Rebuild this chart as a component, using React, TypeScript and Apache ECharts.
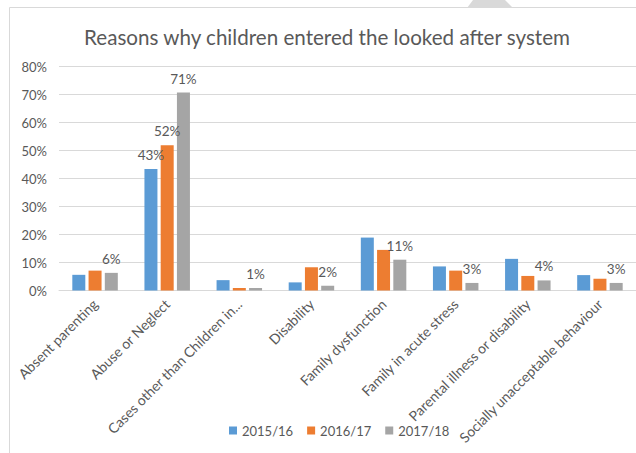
import React, { useEffect, useRef } from "react";
import * as echarts from "echarts";

const categories = [
  "Absent parenting",
  "Abuse or Neglect",
  "Cases other than Children in...",
  "Disability",
  "Family dysfunction",
  "Family in acute stress",
  "Parental illness or disability",
  "Socially unacceptable behaviour",
];
const seriesNames = ["2015/16", "2016/17", "2017/18"];
const values2015 = [5.6, 43.4, 3.7, 2.9, 18.9, 8.6, 11.3, 5.5];
const values2016 = [7.1, 51.9, 0.9, 8.3, 14.5, 7.1, 5.2, 4.2];
const values2017 = [6.3, 70.7, 0.9, 1.7, 11.0, 2.7, 3.6, 2.7];
// which points carry a data label, per series
const labelled2015 = [false, true, false, false, false, false, false, false];
const labelled2016 = [false, true, false, false, false, false, false, false];
const labelled2017 = [true, true, true, true, true, true, true, true];
const colors = ["#5b9bd5", "#ed7d31", "#a5a5a5"];
const yTicks = [0, 10, 20, 30, 40, 50, 60, 70, 80];

const FONT = 'Lato, "Open Sans", sans-serif';
const TEXT = "#595959";

export default function App() {
  const ref = useRef<HTMLDivElement>(null);
  useEffect(() => {
    if (!ref.current) return;
    const chart = echarts.init(ref.current, undefined, { renderer: "svg" });
    const allValues = [values2015, values2016, values2017];
    const allLabelled = [labelled2015, labelled2016, labelled2017];
    chart.setOption({
      animation: false,
      backgroundColor: "#ffffff",
      textStyle: { fontFamily: FONT },
      title: {
        text: "Reasons why children entered the looked after system",
        left: 322,
        textAlign: "center",
        top: 21,
        textStyle: { fontFamily: FONT, fontSize: 20.6, fontWeight: "normal", color: TEXT },
      },
      legend: {
        left: 224,
        top: 419,
        itemWidth: 8,
        itemHeight: 8,
        itemGap: 14,
        icon: "rect",
        data: seriesNames,
        textStyle: { fontFamily: FONT, fontSize: 13, color: TEXT },
      },
      grid: { left: 59, top: 66.5, width: 581, height: 224, containLabel: false },
      xAxis: {
        type: "category",
        data: categories,
        axisLine: { lineStyle: { color: "#d9d9d9", width: 1 } },
        axisTick: { show: false },
        axisLabel: {
          interval: 0,
          rotate: 45,
          margin: 11,
          fontFamily: FONT,
          fontSize: 14,
          color: TEXT,
        },
      },
      yAxis: {
        type: "value",
        min: yTicks[0],
        max: yTicks[yTicks.length - 1],
        interval: 10,
        axisLine: { show: false },
        axisTick: { show: false },
        splitLine: { lineStyle: { color: "#d9d9d9", width: 1 } },
        axisLabel: {
          formatter: "{value}%",
          margin: 12,
          fontFamily: FONT,
          fontSize: 13,
          color: TEXT,
        },
      },
      series: seriesNames.map((name, si) => ({
        name,
        type: "bar",
        barWidth: 13,
        barGap: "25%",
        itemStyle: { color: colors[si] },
        data: allValues[si].map((v, i) => ({
          value: v,
          label: {
            show: allLabelled[si][i],
            position: "top",
            distance: 7,
            formatter: (p: any) => Math.round(p.value) + "%",
            fontFamily: FONT,
            fontSize: 13.5,
            color: TEXT,
          },
        })),
      })),
      graphic: [
        {
          type: "polygon",
          silent: true,
          shape: { points: [[467, 8], [473, 0], [505, 0], [513, 8]] },
          style: { fill: "#d9d9d9" },
        },
        {
          type: "line",
          silent: true,
          shape: { x1: 9.5, y1: 7.5, x2: 636, y2: 7.5 },
          style: { stroke: "#d9d9d9", lineWidth: 1 },
        },
        {
          type: "line",
          silent: true,
          shape: { x1: 9.5, y1: 7.5, x2: 9.5, y2: 453 },
          style: { stroke: "#d9d9d9", lineWidth: 1 },
        },
      ],
    });
    return () => chart.dispose();
  }, []);
  return (
    <div
      ref={ref}
      style={{ position: "fixed", left: 0, top: 0, width: 636, height: 453 }}
    />
  );
}
